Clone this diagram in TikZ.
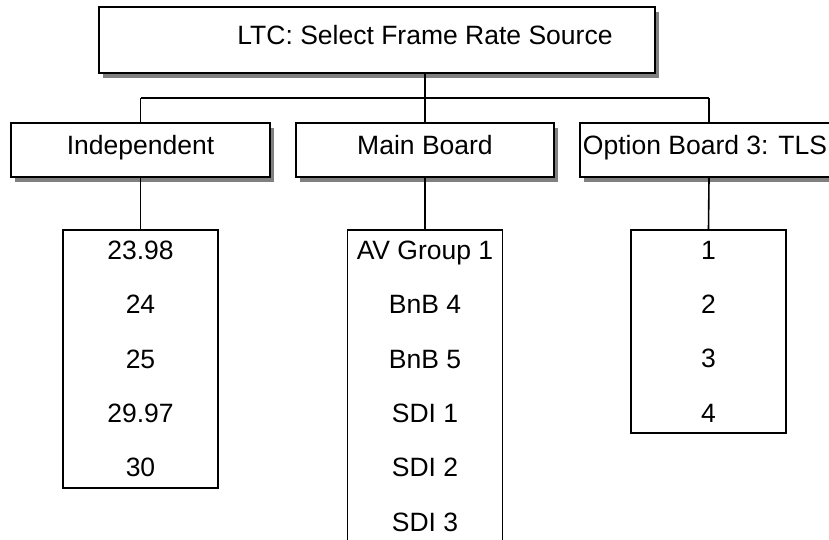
\documentclass[tikz,border=0pt]{standalone}
\usepackage{fontspec}
\setmainfont{Liberation Sans}
\usetikzlibrary{shadows}
\begin{document}
\begin{tikzpicture}[x=1pt,y=-1pt,
  box/.style={draw, line width=1.6pt, fill=white,
    drop shadow={shadow xshift=4pt, shadow yshift=-5pt, fill=black!50, opacity=1},
    font=\fontsize{26.5}{30}\selectfont, text height=19pt, text depth=11pt, inner sep=0pt},
  lbl/.style={font=\fontsize{26.5}{30}\selectfont, inner sep=0pt, anchor=base},
  listbox/.style={draw, line width=1.6pt, fill=white, minimum width=155pt, inner xsep=0pt,
    inner ysep=11pt, align=center, anchor=north, font=\fontsize{26.5}{54.4}\selectfont},
  conn/.style={line width=1.6pt}]
\useasboundingbox (0,0) rectangle (829,539);
\clip (0,0) rectangle (829,539);
% top box
\node[box, minimum width=556pt, minimum height=66pt] (top) at (377,40) {};
\node[lbl] (toptext) at (425,44) {LTC: Select Frame Rate Source};
% second level
\node[box, minimum width=259pt, minimum height=54pt] (ind) at (140.5,150) {Independent};
\node[box, minimum width=258pt, minimum height=54pt] (main) at (425,150) {Main Board};
\node[box, minimum width=258pt, minimum height=54pt] (opt) at (709,150) {\kern-8pt Option Board 3: TLS};
% lists
\node[listbox] (indl) at (140.5,229) {23.98\\24\\25\\29.97\\30};
\node[listbox] (mainl) at (425,229) {AV Group 1\\BnB 4\\BnB 5\\SDI 1\\SDI 2\\SDI 3};
\node[listbox] (optl) at (708.5,229) {1\\2\\3\\4};
% connectors
\coordinate (bus) at (425,98);
\draw[conn] (toptext |- top.south) -- (toptext |- bus);
\draw[conn] (ind.north |- bus) -- (opt.north |- bus);
\draw[conn] (ind.north |- bus) -- (ind.north);
\draw[conn] (main.north |- bus) -- (main.north);
\draw[conn] (opt.north |- bus) -- (opt.north);
\draw[conn] (ind.south) -- (indl.north);
\draw[conn] (main.south) -- (mainl.north);
\draw[conn] (opt.south) -- (optl.north);
\end{tikzpicture}
\end{document}
